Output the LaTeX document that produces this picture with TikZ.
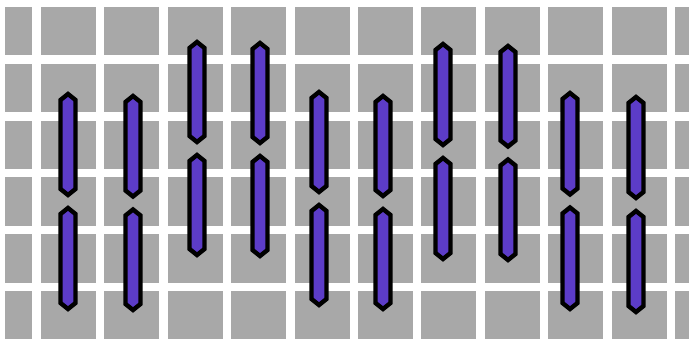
\documentclass[tikz,border=0pt]{standalone}
\definecolor{tilegrey}{RGB}{168,168,168}
\definecolor{segpurple}{RGB}{92,60,200}
\tikzset{
  tile/.style={fill=tilegrey},
  segment/.style={draw=black,fill=segpurple,line width=2.2pt,line join=miter}
}
% one pointed bar: x, top, bottom
\newcommand{\segbar}[3]{%
  \draw[segment] (#1,#2) -- (#1+7.5,#2+6) -- (#1+7.5,#3-6) -- (#1,#3)
    -- (#1-7.5,#3-6) -- (#1-7.5,#2+6) -- cycle;}
\begin{document}
\begin{tikzpicture}[x=0.5pt,y=-0.5pt]
  \fill[white] (0,0) rectangle (689,346);
  \useasboundingbox (0,0) rectangle (689,346);

  % tiles
  \foreach \r in {0,...,5} {
    \fill[tile] (5,{7+56.8*\r}) rectangle ++(27,48.5);
    \fill[tile] (675,{7+56.8*\r}) rectangle (689,{55.5+56.8*\r});
    \foreach \c in {0,...,9}
      \fill[tile] ({41+63.4*\c},{7+56.8*\r}) rectangle ++(55,48.5);
  }

  % bar pairs
  \foreach \x/\t/\b in {68/91/312, 133/93/313, 197/39/258, 260/40/259,
      319/89/308, 383/93/312, 443/41/262, 508/43/263, 570/90/312, 636/94/315} {
    \pgfmathsetmacro\m{(\t+\b)/2}
    \segbar{\x}{\t+3}{\m-6.5}
    \segbar{\x}{\m+6.5}{\b-3}
  }
\end{tikzpicture}
\end{document}
